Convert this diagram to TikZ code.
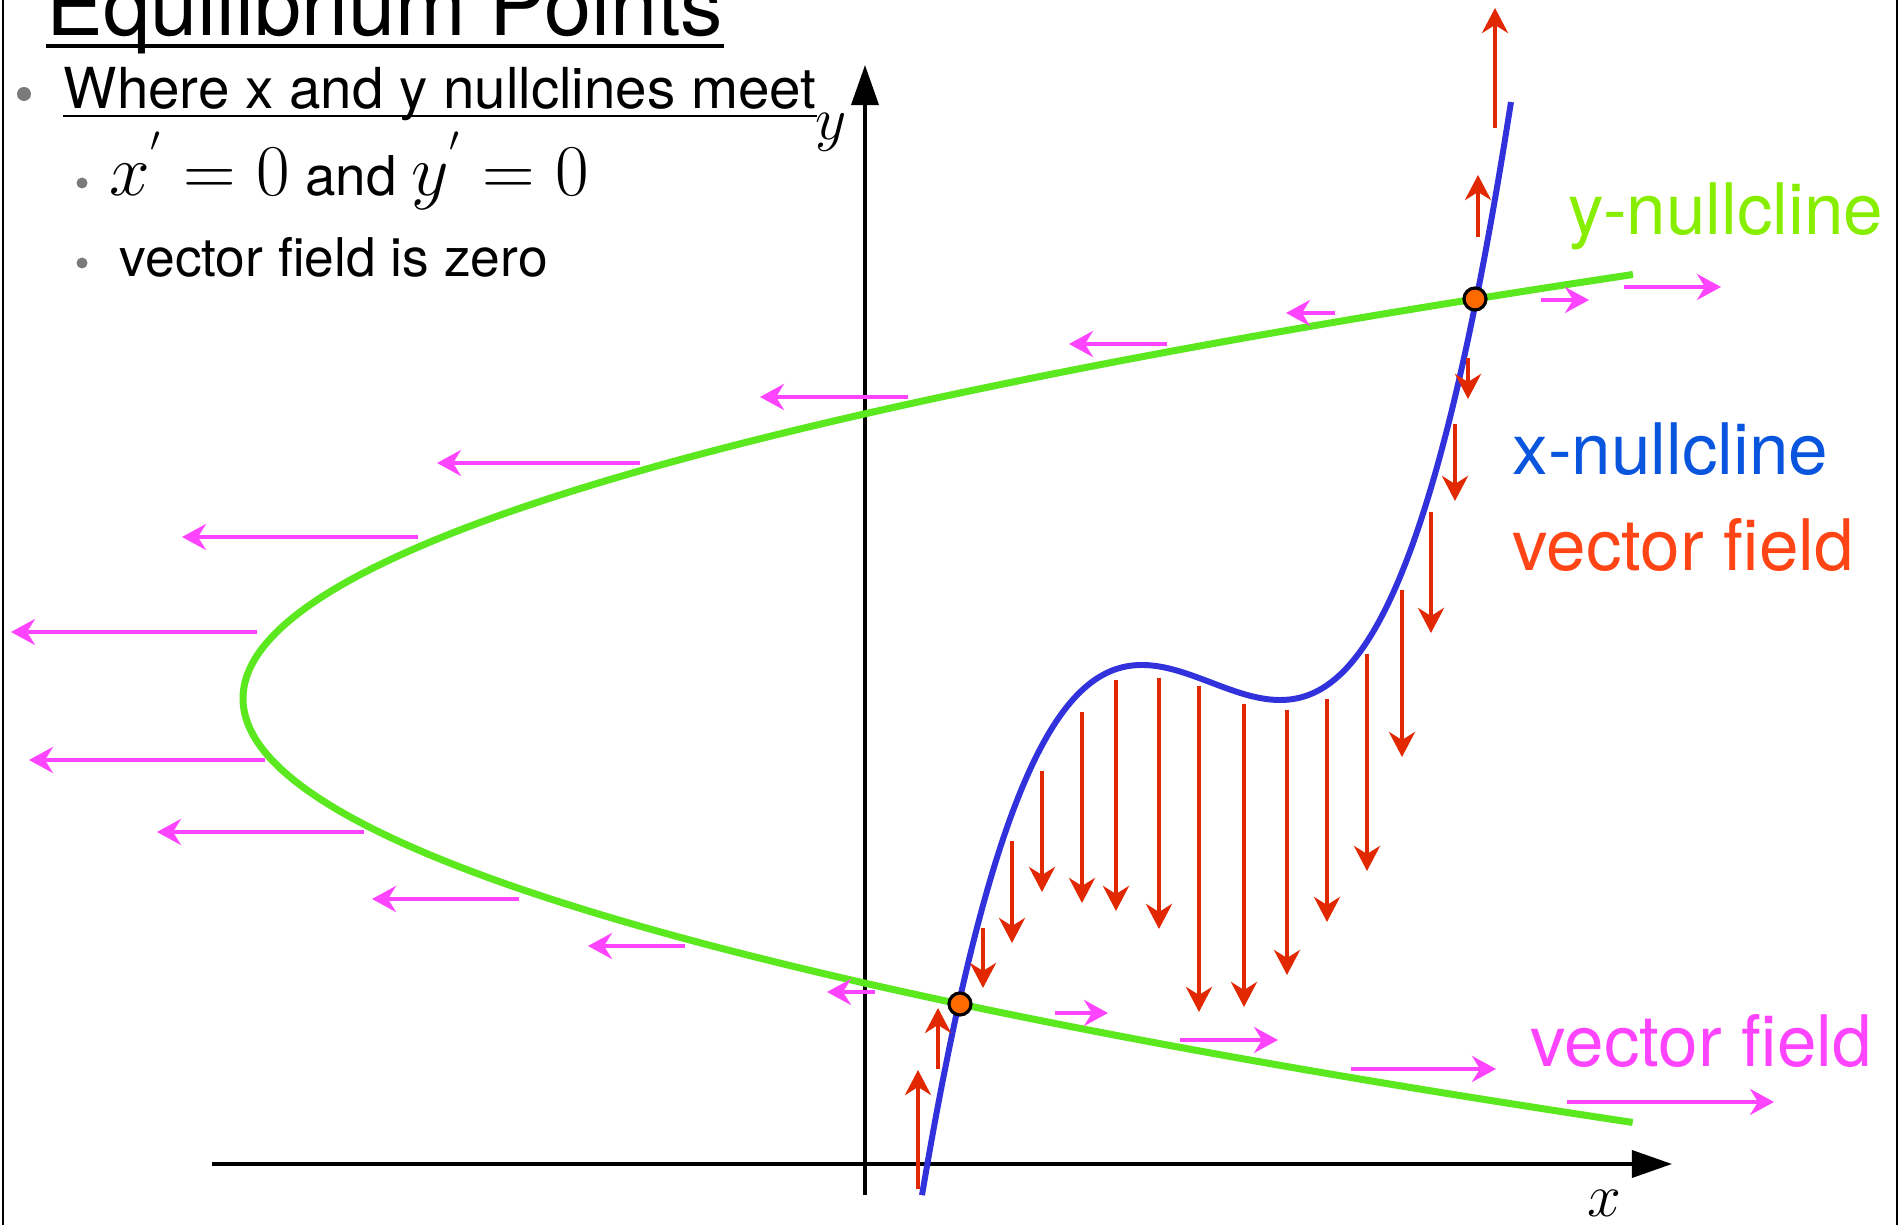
\documentclass[tikz,border=0pt]{standalone}
\usepackage[no-math]{fontspec}
\setmainfont{TeX Gyre Heros}
\usepackage{tikz}
\usetikzlibrary{arrows.meta,positioning}
\definecolor{ygreen}{HTML}{5CE81E}
\definecolor{ylab}{HTML}{88EE00}
\definecolor{xblue}{HTML}{3232DC}
\definecolor{xlab}{HTML}{0A55DD}
\definecolor{fieldred}{HTML}{E12800}
\definecolor{redlab}{HTML}{FF4515}
\definecolor{fieldmag}{HTML}{FF44FF}
\definecolor{eqorange}{HTML}{FF6A00}
\definecolor{dotgray}{HTML}{7A7A7A}

\begin{document}
\begin{tikzpicture}[x=0.01cm,y=-0.01cm,
  vecred/.style={fieldred,line width=1.3pt,-{Stealth[length=0.25cm,width=0.26cm,inset=0.08cm]}},
  vecmag/.style={fieldmag,line width=1.35pt,-{Stealth[length=0.24cm,width=0.26cm,inset=0.08cm]}},
  axisline/.style={line width=1pt,-{Triangle[length=0.4cm,width=0.27cm]}},
  bodytext/.style={inner sep=0pt,anchor=base west,font=\fontsize{15.6}{19}\selectfont},
  sidelabel/.style={inner sep=0pt,anchor=base west,font=\fontsize{20.2}{24}\selectfont},
  eqpt/.style={circle,draw=black,fill=eqorange,line width=0.9pt,inner sep=0pt,minimum size=0.22cm}]
  \useasboundingbox (0,0) rectangle (1902,1225);
  \clip (0,0) rectangle (1902,1225);
  \draw[line width=0.6pt] (3,0)--(3,1225) (1897,0)--(1897,1225);
  % text
  \node[inner sep=0pt,anchor=base west,font=\fontsize{24.1}{28}\selectfont] (title) at (46,36) {Equilibrium Points};
  \draw[line width=0.9pt] ([yshift=-2.85pt]title.base west)--([yshift=-2.85pt]title.base east);
  \fill[dotgray] (24,94) circle (7);
  \node[bodytext,font=\fontsize{16.07}{19}\selectfont] (meet) at (63,109) {Where x and y nullclines meet};
  \draw[line width=0.7pt] ([yshift=-2pt]meet.base west)--([yshift=-2pt]meet.base east);
  \fill[dotgray] (82,183) circle (5.5) (82,263) circle (5.5);
  \node[bodytext] (primes) at (109,196) {{\fontsize{20}{24}\selectfont$x^{'}=0$} and {\fontsize{20}{24}\selectfont$y^{'}=0$}};
  \node[bodytext,font=\fontsize{15.17}{19}\selectfont] (zero) at (119,277) {vector field is zero};
  % axes
  \coordinate (xstart) at (212,1164);
  \coordinate (xend) at (1672,1164);
  \coordinate (ystart) at (865,1195);
  \coordinate (yend) at (865,65);
  \draw[axisline] (xstart)--(xend);
  \draw[axisline] (ystart)--(yend);
  \node[inner sep=0pt,anchor=base west,font=\fontsize{17}{20}\selectfont] (xname) at (1587,1217) {$x$};
  \node[inner sep=0pt,anchor=base west,font=\fontsize{17}{20}\selectfont] (yname) at (815,140) {$y$};
  % nullclines
  \draw[ygreen,line width=2pt] plot[domain=-4.24:4.24,samples=90,smooth,variable=\t] ({243+76.29*\t*\t+0.057*\t*\t*\t*\t},{698.5+100*\t});
  \draw[xblue,line width=1.7pt] plot[domain=-2.89:3.0,samples=90,smooth,variable=\u] ({1211+100*\u},{682.5+38.04*\u-26.63*\u*\u*\u+0.1*\u*\u*\u*\u*\u});
  % vector field
  \foreach \px/\ya/\yb in {918/1189/1070,938/1069/1008,1478/237/175,1495/128/8,983/928/988,1012/841/943,1042/771/892,1082/712/903,1116/680/911,1159/678/929,1199/686/1012,1244/704/1007,1287/710/975,1327/699/922,1367/654/871,1402/590/757,1431/512/633,1455/424/501,1468/358/399}
    {\draw[vecred] (\px,\ya)--(\px,\yb);}
  \foreach \py/\xa/\xb in {313/1335/1286,344/1167/1069,397/908/760,463/640/437,537/418/182,632/257/11,760/265/29,832/364/157,899/519/372,946/685/588,992/875/827,300/1541/1589,287/1624/1721,1013/1055/1108,1040/1180/1278,1069/1351/1496,1102/1567/1774}
    {\draw[vecmag] (\xa,\py)--(\xb,\py);}
  \node[eqpt] (eqhigh) at (1475,299) {};
  \node[eqpt] (eqlow) at (960,1004) {};
  % labels
  \node[sidelabel,ylab] (ynull) at (1568,235) {y-nullcline};
  \node[sidelabel,xlab] (xnull) at (1512,475) {x-nullcline};
  \node[sidelabel,redlab] (redfield) at (1512,571) {vector field};
  \node[sidelabel,fieldmag] (magfield) at (1530,1067) {vector field};
\end{tikzpicture}
\end{document}
